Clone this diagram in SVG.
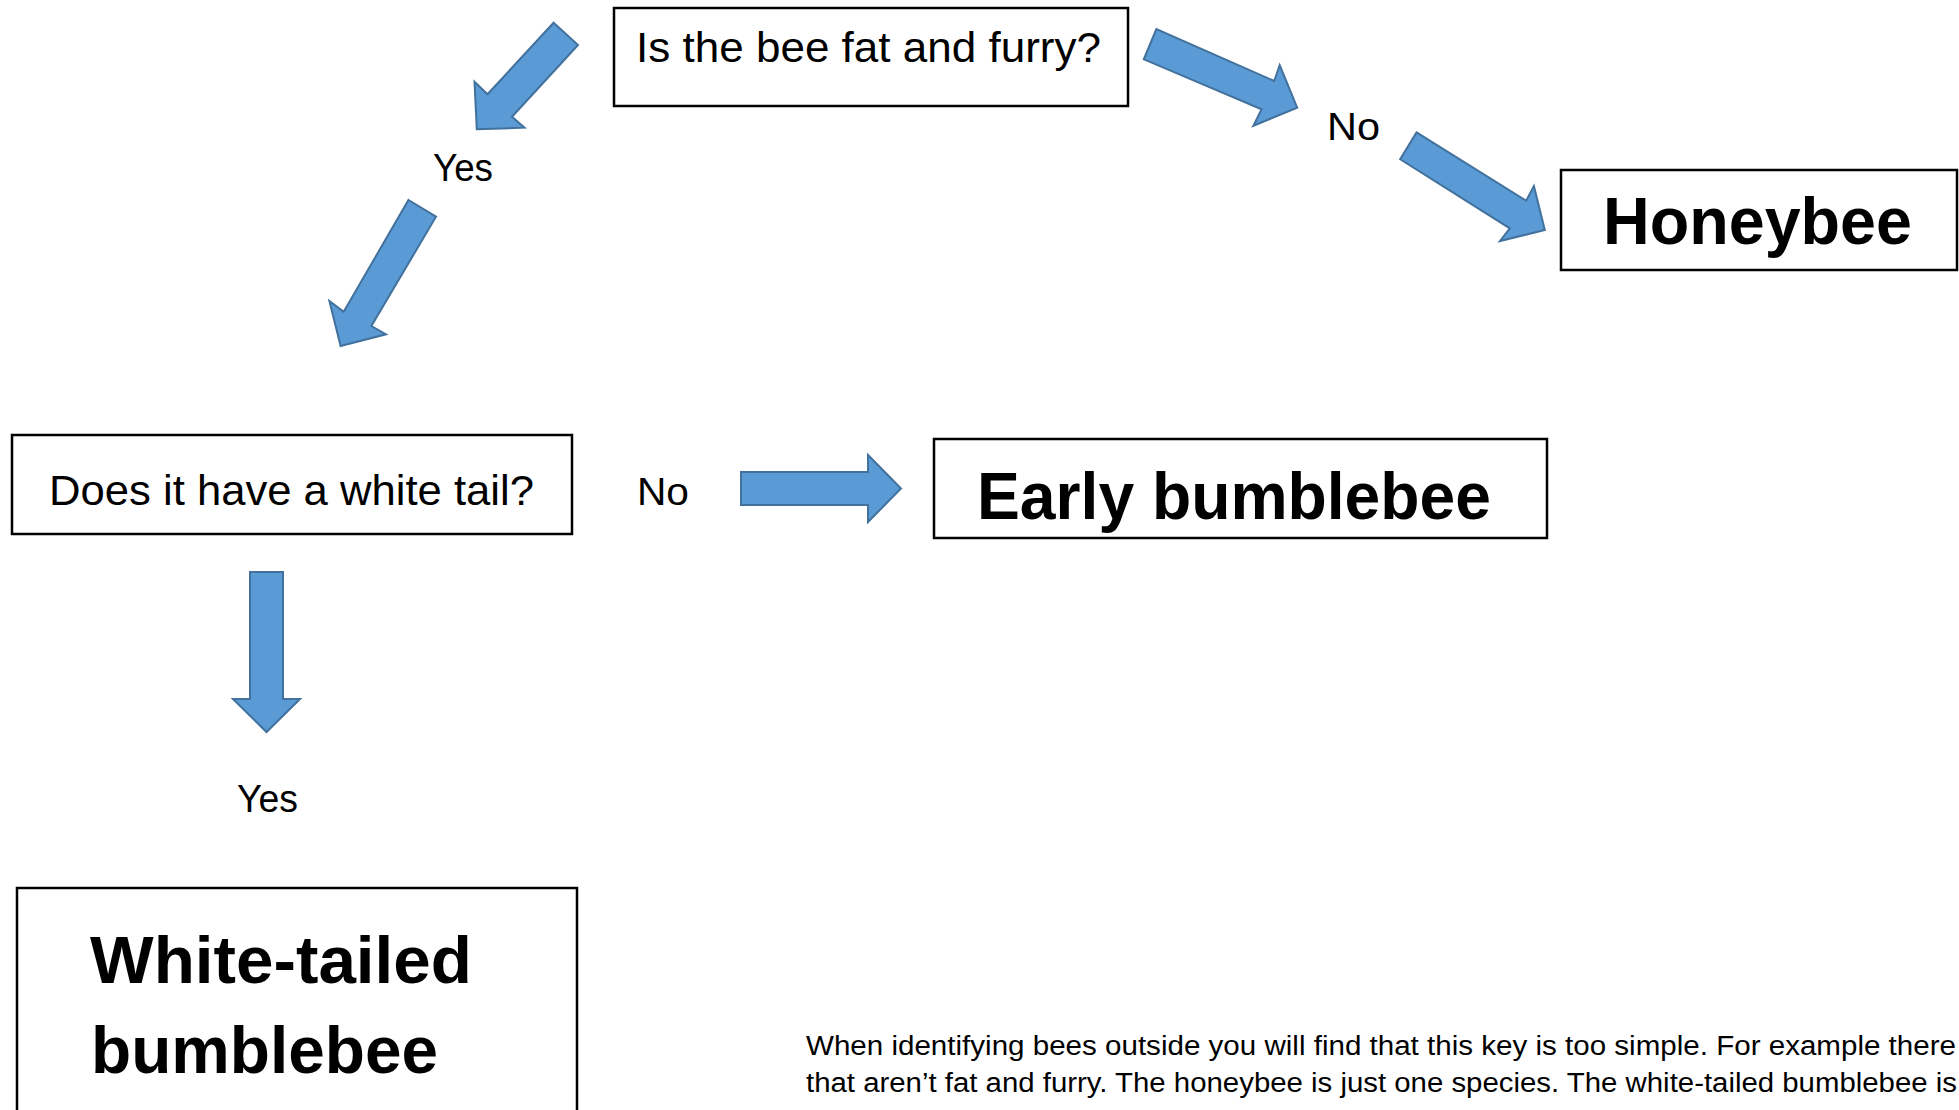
<svg xmlns="http://www.w3.org/2000/svg" width="1959" height="1110" viewBox="0 0 1959 1110">
<style>
.box{fill:#fff;stroke:#000;stroke-width:2.5}
.arr{fill:#5B9BD5;stroke:#41719C;stroke-width:2;stroke-linejoin:miter}
.q{font-family:"Liberation Sans",Arial,sans-serif;font-size:42px;fill:#000}
.lbl{font-family:"Liberation Sans",Arial,sans-serif;font-size:39px;fill:#000}
.ans{font-family:"Liberation Sans",Arial,sans-serif;font-size:67px;font-weight:bold;fill:#000}
.note{font-family:"Liberation Sans",Arial,sans-serif;font-size:27px;fill:#000}
</style>
<rect width="1959" height="1110" fill="#fff"/>
<g id="connectors">
<polygon class="arr" points="553.6,22.7 578,45 512,116.7 524.5,127.7 476.8,129.3 474.5,81.7 487.5,94.3"/>
<polygon class="arr" points="408.5,200 436,216.7 371.4,326 386,334.3 340.6,346 329.4,301 343.7,311.7"/>
<polygon class="arr" points="1156.4,29 1143.8,59.3 1261.6,109.3 1253.4,125.7 1297.2,107.7 1279.7,65 1274.2,81"/>
<polygon class="arr" points="1416.6,132.3 1400.2,159.3 1509.8,228.3 1500,241 1544.8,230 1533.9,186 1526.2,200.7"/>
<polygon class="arr" points="741,472 868,472 868,455 901,488.5 868,522 868,505 741,505"/>
<polygon class="arr" points="250,572 283,572 283,699 300,699 266.5,732 233,699 250,699"/>
<text class="lbl" x="433" y="181" textLength="60" lengthAdjust="spacingAndGlyphs">Yes</text>
<text class="lbl" x="1327" y="140" textLength="53" lengthAdjust="spacingAndGlyphs">No</text>
<text class="lbl" x="637" y="505" textLength="52" lengthAdjust="spacingAndGlyphs">No</text>
<text class="lbl" x="237" y="812" textLength="61" lengthAdjust="spacingAndGlyphs">Yes</text>
</g>
<g id="q1">
<rect class="box" x="614" y="8" width="514" height="98"/>
<text class="q" x="636" y="62" textLength="465" lengthAdjust="spacingAndGlyphs">Is the bee fat and furry?</text>
</g>
<g id="honeybee">
<rect class="box" x="1561" y="170" width="396" height="100"/>
<text class="ans" x="1603" y="244" textLength="309" lengthAdjust="spacingAndGlyphs">Honeybee</text>
</g>
<g id="q2">
<rect class="box" x="12" y="435" width="560" height="99"/>
<text class="q" x="49" y="505" textLength="485" lengthAdjust="spacingAndGlyphs">Does it have a white tail?</text>
</g>
<g id="early">
<rect class="box" x="934" y="439" width="613" height="99"/>
<text class="ans" x="977" y="519" textLength="514" lengthAdjust="spacingAndGlyphs">Early bumblebee</text>
</g>
<g id="whitetailed">
<rect class="box" x="17" y="888" width="560" height="240"/>
<text class="ans" x="90" y="983" textLength="382" lengthAdjust="spacingAndGlyphs">White-tailed</text>
<text class="ans" x="91" y="1073" textLength="347" lengthAdjust="spacingAndGlyphs">bumblebee</text>
</g>
<g id="note">
<text class="note" x="806" y="1055" textLength="1150" lengthAdjust="spacingAndGlyphs">When identifying bees outside you will find that this key is too simple. For example there</text>
<text class="note" x="806" y="1092" textLength="1151" lengthAdjust="spacingAndGlyphs">that aren’t fat and furry. The honeybee is just one species. The white-tailed bumblebee is</text>
</g>
</svg>
